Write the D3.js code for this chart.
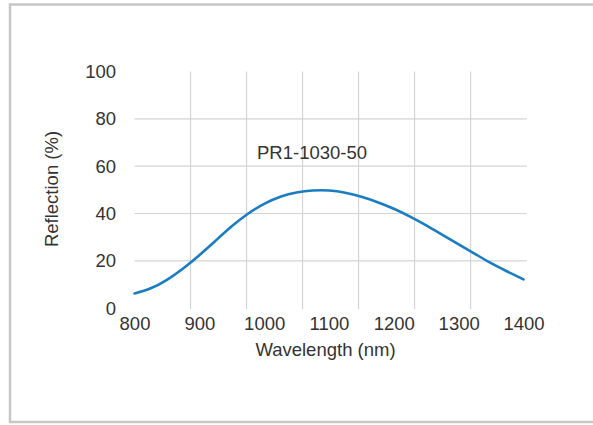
<!DOCTYPE html>
<html>
<head>
<meta charset="utf-8">
<script src="https://cdn.jsdelivr.net/npm/d3@7"></script>
<style>
  body { margin: 0; background: #fff; }
  text { font-family: "Liberation Sans", Arial, sans-serif; fill: #333; }
</style>
</head>
<body>
<svg width="593" height="425"></svg>
<script>
// reflection curve
var wavelength = [800, 825, 850, 875, 900, 925, 950, 975, 1000, 1025, 1050, 1075, 1100,
                  1125, 1150, 1175, 1200, 1225, 1250, 1275, 1300, 1325, 1350, 1375, 1400];
var reflection = [6.2, 8.4, 12.0, 16.8, 22.4, 28.5, 34.6, 39.9, 44.1, 47.1, 48.9, 49.7, 49.7,
                  48.8, 47.1, 44.8, 42.0, 38.7, 35.0, 31.0, 27.0, 23.0, 19.0, 15.5, 12.2];

var xTicks = [800, 900, 1000, 1100, 1200, 1300, 1400];
var yTicks = [0, 20, 40, 60, 80, 100];
// the vertical grid in the original does not line up with the tick labels
var xGrid = [886.4, 972.8, 1059.2, 1145.6, 1232, 1318.4];
var yGrid = [20, 40, 60, 80];
var gridEnd = 1405;
var seriesName = "PR1-1030-50";

var svg = d3.select("svg"),
    width = +svg.attr("width"),
    height = +svg.attr("height");

// frame
svg.append("rect")
    .attr("x", 10).attr("y", 4.5)
    .attr("width", 600).attr("height", 417.5)
    .attr("fill", "none")
    .attr("stroke", "#c6c6c6")
    .attr("stroke-width", 2.5);

var x = d3.scaleLinear().domain([800, 1400]).range([134.5, 523.5]);
var y = d3.scaleLinear().domain([0, 100]).range([308.2, 71.5]);

var grid = svg.append("g").attr("class", "grid")
    .attr("stroke", "#d4d4d4")
    .attr("stroke-width", 1.2);

grid.selectAll("line.h")
  .data(yGrid)
  .enter().append("line")
    .attr("class", "h")
    .attr("x1", x(800)).attr("x2", x(gridEnd))
    .attr("y1", function(d) { return y(d); })
    .attr("y2", function(d) { return y(d); });

grid.selectAll("line.v")
  .data(xGrid)
  .enter().append("line")
    .attr("class", "v")
    .attr("y1", y(100)).attr("y2", y(0) + 1)
    .attr("x1", function(d) { return x(d); })
    .attr("x2", function(d) { return x(d); });

// axes, labels only
var xAxis = svg.append("g")
    .attr("transform", "translate(0," + 317 + ")")
    .call(d3.axisBottom(x).tickValues(xTicks).tickSize(0).tickPadding(0).tickFormat(d3.format("d")));
xAxis.select(".domain").remove();
xAxis.selectAll("text")
    .attr("dy", "0.71em")
    .style("font-size", "18.5px")
    .style("fill", "#333");

var yAxis = svg.append("g")
    .attr("transform", "translate(" + 116 + ",0)")
    .call(d3.axisLeft(y).tickValues(yTicks).tickSize(0).tickPadding(0));
yAxis.select(".domain").remove();
yAxis.selectAll("text")
    .style("font-size", "18.5px")
    .style("fill", "#333");

svg.append("text")
    .attr("x", 325.5).attr("y", 356)
    .attr("text-anchor", "middle")
    .style("font-size", "18.5px")
    .text("Wavelength (nm)");

svg.append("text")
    .attr("transform", "translate(58,189) rotate(-90)")
    .attr("text-anchor", "middle")
    .style("font-size", "18.5px")
    .text("Reflection (%)");

svg.append("text")
    .attr("x", 257).attr("y", 158.5)
    .style("font-size", "18.5px")
    .text(seriesName);

var data = wavelength.map(function(w, i) { return {w: w, r: reflection[i]}; });

var line = d3.line()
    .x(function(d) { return x(d.w); })
    .y(function(d) { return y(d.r); })
    .curve(d3.curveNatural);

svg.append("path")
    .datum(data)
    .attr("fill", "none")
    .attr("stroke", "#1a7cc1")
    .attr("stroke-width", 2.6)
    .attr("stroke-linecap", "round")
    .attr("d", line);
</script>
</body>
</html>
